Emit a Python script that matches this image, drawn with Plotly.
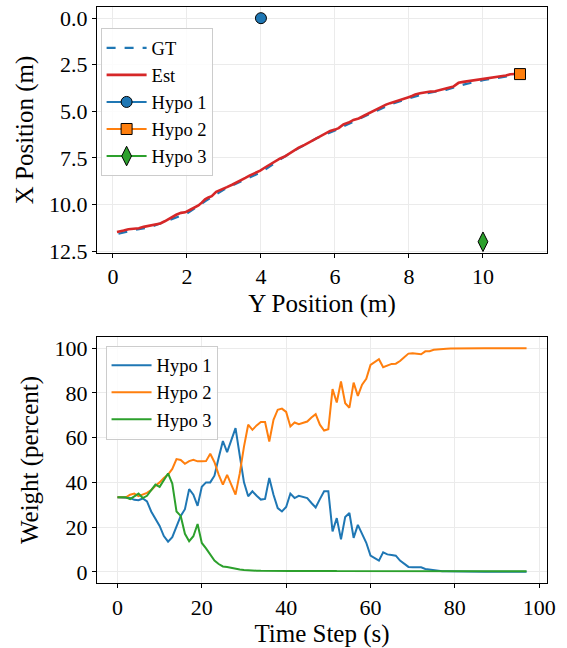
import plotly.graph_objects as go

# ---------------- data: trajectory (top panel) ----------------
est_ypos = [0.11, 0.20, 0.29, 0.42, 0.56, 0.70, 0.83, 0.95, 1.05, 1.17, 1.28, 1.40, 1.50, 1.61, 1.71,
            1.84, 1.95, 2.09, 2.20, 2.31, 2.40, 2.49, 2.58, 2.67, 2.79, 2.93, 3.08, 3.22, 3.35, 3.47,
            3.58, 3.69, 3.80, 3.90, 3.98, 4.12, 4.25, 4.38, 4.52, 4.66, 4.79, 4.90, 5.02, 5.18, 5.33,
            5.47, 5.60, 5.74, 5.87, 6.00, 6.10, 6.23, 6.37, 6.50, 6.64, 6.77, 6.90, 7.04, 7.15, 7.27,
            7.38, 7.49, 7.63, 7.76, 7.88, 7.99, 8.08, 8.17, 8.30, 8.44, 8.58, 8.71, 8.85, 8.98, 9.10,
            9.21, 9.30, 9.34, 9.47, 9.61, 9.77, 9.93, 10.06, 10.20, 10.35, 10.51, 10.62, 10.74, 10.87, 11.0]
est_xpos = [11.48, 11.42, 11.40, 11.33, 11.30, 11.27, 11.20, 11.15, 11.12, 11.06, 11.02, 10.90, 10.78, 10.66, 10.55,
            10.45, 10.42, 10.28, 10.18, 10.05, 9.90, 9.72, 9.62, 9.55, 9.32, 9.22, 9.07, 8.94, 8.82, 8.70,
            8.57, 8.45, 8.36, 8.28, 8.18, 8.00, 7.84, 7.70, 7.53, 7.40, 7.23, 7.10, 6.95, 6.80, 6.64,
            6.50, 6.32, 6.18, 6.05, 5.98, 5.90, 5.70, 5.60, 5.46, 5.38, 5.25, 5.12, 4.98, 4.85, 4.72,
            4.64, 4.56, 4.48, 4.38, 4.33, 4.24, 4.18, 4.10, 4.03, 3.97, 3.94, 3.92, 3.86, 3.78, 3.72,
            3.66, 3.55, 3.47, 3.42, 3.38, 3.33, 3.28, 3.25, 3.19, 3.15, 3.13, 3.08, 3.01, 3.00, 2.98]

gt_ypos = [0.15, 0.5, 1.0, 1.5, 2.0, 2.5, 3.0, 3.5, 4.0, 4.5, 5.0, 5.5, 6.0, 6.5, 7.0, 7.5,
           8.0, 8.5, 9.0, 9.5, 10.0, 10.5, 11.0]
gt_xpos = [11.57, 11.40, 11.22, 10.85, 10.48, 9.82, 9.20, 8.72, 8.28, 7.60, 7.00, 6.45, 6.03, 5.55,
           5.08, 4.63, 4.30, 4.02, 3.85, 3.55, 3.33, 3.17, 3.02]

hypo_names = ["Hypo 1", "Hypo 2", "Hypo 3"]
hypo_ypos = [4.0, 11.0, 10.0]
hypo_xpos = [0.0, 3.0, 12.0]

# ---------------- data: weights (bottom panel) ----------------
time_steps = list(range(98))
w_hypo1 = [33.3, 33.3, 33.3, 33.0, 32.2, 32.0, 32.8, 31.5, 27.0, 23.5,
           20.5, 16.0, 13.5, 15.5, 20.5, 25.0, 28.0, 37.0, 34.5, 29.5,
           38.0, 40.0, 40.0, 43.0, 51.0, 58.5, 53.5, 59.0, 64.3, 52.0,
           40.0, 33.8, 36.0, 34.0, 32.3, 32.6, 42.0, 34.5, 28.5, 27.0,
           29.0, 35.0, 33.0, 34.0, 33.5, 33.0, 30.8, 28.8, 32.5, 36.0,
           36.0, 18.1, 24.0, 14.5, 24.5, 26.3, 15.2, 21.0, 17.0, 13.0,
           7.3, 6.2, 5.0, 8.7, 7.8, 7.5, 7.2, 5.0, 3.5, 2.2,
           2.1, 2.2, 2.0, 1.3, 1.0, 0.8, 0.5, 0.3, 0.25, 0.2,
           0.2, 0.15, 0.15, 0.1, 0.1, 0.1, 0.1, 0.08, 0.08, 0.05,
           0.05, 0.05, 0.05, 0.05, 0.05, 0.05, 0.05, 0.05]
w_hypo2 = [33.3, 33.3, 33.3, 34.5, 35.0, 33.8, 34.5, 35.3, 36.5, 38.5,
           40.0, 42.0, 43.5, 46.0, 50.4, 50.0, 48.3, 49.5, 50.1, 49.4,
           49.4, 49.5, 52.8, 49.0, 43.5, 39.0, 43.4, 39.0, 34.5, 44.0,
           56.0, 65.8, 63.5, 65.5, 67.0, 67.0, 58.3, 68.0, 72.5, 73.0,
           71.5, 65.0, 66.8, 66.0, 66.5, 67.2, 69.0, 70.5, 65.8, 63.2,
           63.8, 81.7, 75.7, 85.1, 75.4, 73.4, 84.6, 78.7, 83.7, 86.3,
           92.5, 93.8, 95.1, 91.5, 92.3, 93.0, 93.1, 94.3, 96.0, 97.6,
           97.8, 97.6, 97.3, 98.6, 98.7, 99.3, 99.5, 99.8, 99.8, 99.85,
           99.9, 99.9, 99.9, 99.9, 99.95, 99.95, 99.95, 99.95, 99.95, 99.95,
           99.95, 99.95, 99.95, 99.95, 99.95, 99.95, 99.95, 99.95]
w_hypo3 = [33.3, 33.3, 33.3, 32.5, 33.8, 35.0, 33.0, 34.0, 36.5, 39.0,
           38.0, 41.0, 44.0, 39.5, 27.0, 25.0, 17.0, 13.7, 15.9, 21.4,
           12.9, 10.5, 7.5, 5.0, 3.5, 2.4, 2.2, 1.8, 1.2, 1.0,
           0.8, 0.6, 0.5, 0.5, 0.45, 0.4, 0.4, 0.4, 0.45, 0.5,
           0.45, 0.4, 0.4, 0.4, 0.4, 0.5, 0.6, 0.7, 0.6, 0.5,
           0.45, 0.4, 0.35, 0.35, 0.35, 0.35, 0.35, 0.35, 0.35, 0.35,
           0.3, 0.3, 0.3, 0.3, 0.3, 0.3, 0.3, 0.3, 0.3, 0.3,
           0.3, 0.3, 0.3, 0.3, 0.3, 0.3, 0.3, 0.3, 0.3, 0.3,
           0.3, 0.3, 0.3, 0.3, 0.3, 0.3, 0.3, 0.3, 0.3, 0.3,
           0.3, 0.3, 0.3, 0.3, 0.3, 0.3, 0.3, 0.3]
weights = [w_hypo1, w_hypo2, w_hypo3]

colors = ["#1f77b4", "#ff7f0e", "#2ca02c"]
symbols = ["circle", "square", "diamond-tall"]
marker_sizes = [11, 11, 14]

FONT = "Liberation Serif"

fig = go.Figure()

# top panel
fig.add_trace(go.Scatter(x=gt_ypos, y=gt_xpos, mode="lines", name="GT",
                         line=dict(color="#1f77b4", width=2.2, dash="dash"),
                         xaxis="x", yaxis="y", legend="legend"))
fig.add_trace(go.Scatter(x=est_ypos, y=est_xpos, mode="lines", name="Est",
                         line=dict(color="#d62728", width=2.6),
                         xaxis="x", yaxis="y", legend="legend"))
for i in range(3):
    fig.add_trace(go.Scatter(x=[hypo_ypos[i]], y=[hypo_xpos[i]], mode="lines+markers",
                             name=hypo_names[i],
                             line=dict(color=colors[i], width=2),
                             marker=dict(symbol=symbols[i], size=marker_sizes[i], color=colors[i],
                                         line=dict(color="black", width=1)),
                             xaxis="x", yaxis="y", legend="legend"))

# bottom panel
for i in range(3):
    fig.add_trace(go.Scatter(x=time_steps, y=weights[i], mode="lines", name=hypo_names[i],
                             line=dict(color=colors[i], width=2),
                             xaxis="x2", yaxis="y2", legend="legend2"))

axis_common = dict(showline=True, linecolor="black", linewidth=1.2, mirror=True,
                   ticks="outside", ticklen=4, tickcolor="black",
                   showgrid=True, gridcolor="#ebebeb", gridwidth=1, zeroline=False,
                   tickfont=dict(family=FONT, size=22, color="black"))

legend_common = dict(font=dict(family=FONT, size=18.5, color="black"),
                     bgcolor="rgba(255,255,255,0.85)", bordercolor="#cccccc", borderwidth=1,
                     xanchor="left", yanchor="top", tracegroupgap=0, itemwidth=40)

fig.update_layout(
    width=567, height=648,
    margin=dict(l=97, r=20, t=7, b=65),
    paper_bgcolor="white", plot_bgcolor="white",
    font=dict(family=FONT, color="black"),
    showlegend=True,
    xaxis=dict(axis_common, domain=[0, 1], anchor="y", range=[-0.43, 11.73],
               tickmode="array", tickvals=[0, 2, 4, 6, 8, 10],
               title=dict(text="Y Position (m)", font=dict(family=FONT, size=25), standoff=6)),
    yaxis=dict(axis_common, domain=[0.573, 1], anchor="x", range=[12.6, -0.6],
               tickmode="array", tickvals=[0, 2.5, 5, 7.5, 10, 12.5],
               ticktext=["0.0", "2.5", "5.0", "7.5", "10.0", "12.5"],
               title=dict(text="X Position (m)", font=dict(family=FONT, size=25), standoff=8)),
    xaxis2=dict(axis_common, domain=[0, 1], anchor="y2", range=[-4.85, 101.85],
                tickmode="array", tickvals=[0, 20, 40, 60, 80, 100],
                title=dict(text="Time Step (s)", font=dict(family=FONT, size=25), standoff=4)),
    yaxis2=dict(axis_common, domain=[0, 0.427], anchor="x2", range=[-5, 105],
                tickmode="array", tickvals=[0, 20, 40, 60, 80, 100],
                title=dict(text="Weight (percent)", font=dict(family=FONT, size=25), standoff=8)),
    legend=dict(legend_common, x=0.008, y=0.963),
    legend2=dict(legend_common, x=0.019, y=0.412),
)

fig.write_html("out.html")
